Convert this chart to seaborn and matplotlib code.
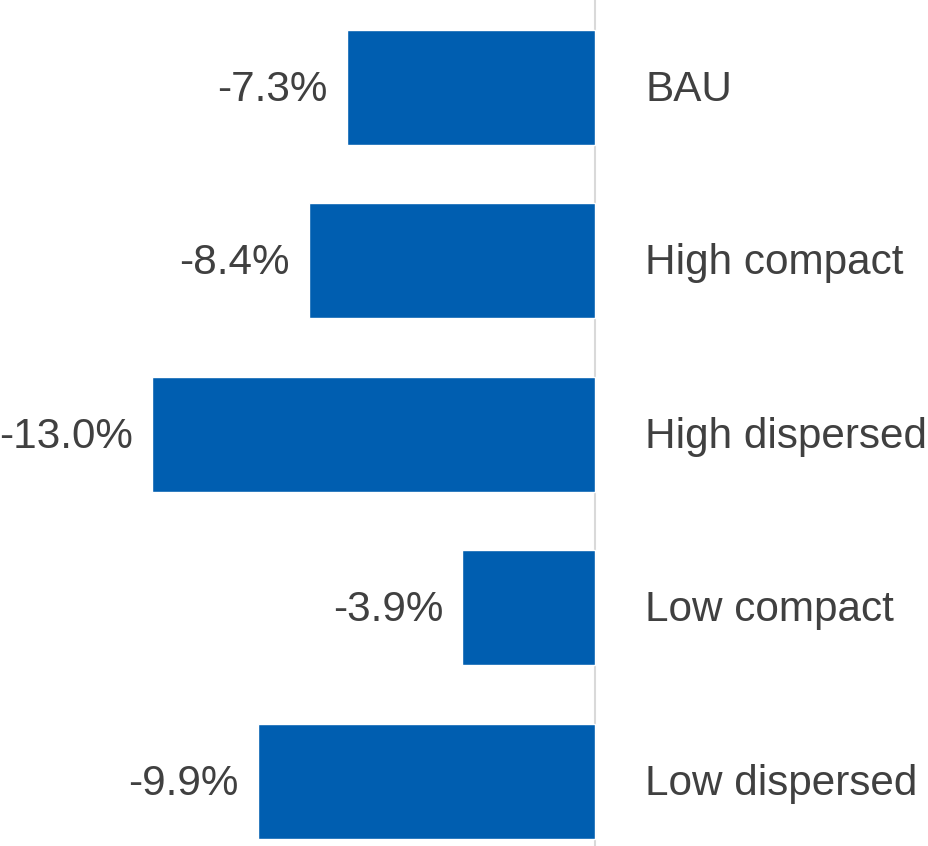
import pandas as pd
import matplotlib
matplotlib.use("Agg")
import matplotlib.pyplot as plt
import seaborn as sns

scenarios = ["BAU", "High compact", "High dispersed", "Low compact", "Low dispersed"]
change_pct = [-7.3, -8.4, -13.0, -3.9, -9.9]

df = pd.DataFrame({"Scenario": scenarios, "Change": change_pct})

sns.set_style("white")
plt.rcParams['font.family'] = ['Liberation Sans', 'DejaVu Sans']

fig = plt.figure(figsize=(9.29, 8.46), dpi=100)
ax = fig.add_axes([0, 0, 1, 1])

sns.barplot(data=df, x="Change", y="Scenario", orient="h", color="#005EB0",
            saturation=1, width=0.663, ax=ax)

ax.set_xlim(-17.47, 9.79)
ax.set_ylim(4.374, -0.505)
ax.axvline(0, color="#d9d9d9", lw=1.5, zorder=0)

text_color = "#404040"
for i, (name, val) in enumerate(zip(scenarios, change_pct)):
    ax.text(val - 0.57, i + 0.014, f"{val:.1f}%", ha="right", va="center",
            fontsize=30.4, color=text_color)
    ax.text(1.47, i + 0.014, name, ha="left", va="center",
            fontsize=30.4, color=text_color)

ax.set_axis_off()
fig.savefig("out.png", dpi=100)
